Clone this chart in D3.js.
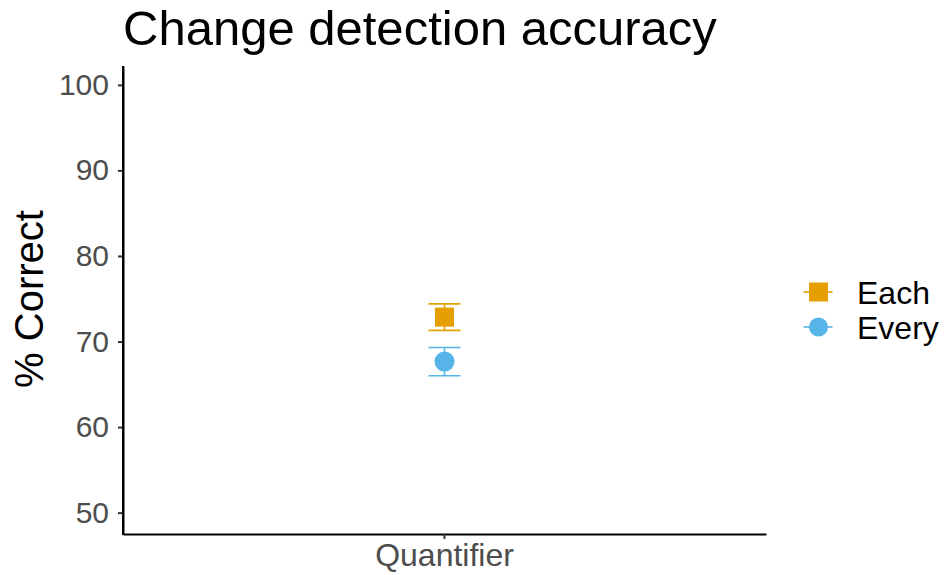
<!DOCTYPE html>
<html>
<head>
<meta charset="utf-8">
<script src="https://cdn.jsdelivr.net/npm/d3@7"></script>
<style>
  html, body { margin: 0; padding: 0; background: #fff; }
  svg text { font-family: "Liberation Sans", Arial, sans-serif; }
</style>
</head>
<body>
<script>
// Accuracy by quantifier condition (mean with error bars)
const categories = ["Quantifier"];
const groups = ["Each", "Every"];
const means = [72.85, 67.65];
const lower = [71.3, 66.0];
const upper = [74.4, 69.3];
const colors = ["#E69F00", "#56B4E9"];
const yTicks = [50, 60, 70, 80, 90, 100];

const W = 944, H = 575;
const panel = { left: 123, right: 766, top: 66, bottom: 534 };

const svg = d3.select("body").append("svg")
  .attr("width", W).attr("height", H);

const x = d3.scaleBand().domain(categories)
  .range([panel.left, panel.right]).padding(0);
const y = d3.scaleLinear().domain([47.5, 102.2])
  .range([panel.bottom, panel.top]);

// Title
svg.append("text")
  .attr("x", 123).attr("y", 45)
  .attr("font-size", 49).attr("fill", "#000")
  .text("Change detection accuracy");

// Y axis
const yAxis = svg.append("g")
  .attr("transform", `translate(${panel.left},0)`)
  .call(d3.axisLeft(y).tickValues(yTicks).tickSize(5).tickPadding(9).tickSizeOuter(0));
yAxis.select(".domain").attr("stroke", "#000").attr("stroke-width", 2);
yAxis.selectAll(".tick line").attr("stroke", "#333").attr("stroke-width", 2);
yAxis.selectAll(".tick text")
  .attr("font-size", 30).attr("fill", "#4D4D4D")
  .attr("font-family", "Liberation Sans, Arial, sans-serif");

// X axis
const xAxis = svg.append("g")
  .attr("transform", `translate(0,${panel.bottom})`)
  .call(d3.axisBottom(x).tickSize(5).tickSizeOuter(0));
xAxis.select(".domain").attr("stroke", "#000").attr("stroke-width", 2);
xAxis.selectAll(".tick line").attr("stroke", "#333").attr("stroke-width", 2);
xAxis.selectAll(".tick text")
  .attr("font-size", 32).attr("fill", "#4D4D4D")
  .attr("y", 32).attr("dy", 0)
  .attr("font-family", "Liberation Sans, Arial, sans-serif");

// Left axis line drawn through the corner
svg.append("line")
  .attr("x1", panel.left).attr("x2", panel.left)
  .attr("y1", panel.top).attr("y2", panel.bottom + 1)
  .attr("stroke", "#000").attr("stroke-width", 2);

// Y axis title
svg.append("text")
  .attr("transform", `translate(43,${(panel.top + panel.bottom) / 2 - 1}) rotate(-90)`)
  .attr("text-anchor", "middle")
  .attr("font-size", 40).attr("fill", "#000")
  .text("% Correct");

// Error bars and points
const cx = x("Quantifier") + x.bandwidth() / 2;
const capHalf = 16;
const g = svg.append("g");
groups.forEach((grp, i) => {
  const col = colors[i];
  g.append("line").attr("x1", cx).attr("x2", cx)
    .attr("y1", y(upper[i])).attr("y2", y(lower[i]))
    .attr("stroke", col).attr("stroke-width", 1.6);
  [upper[i], lower[i]].forEach(v => {
    g.append("line").attr("x1", cx - capHalf).attr("x2", cx + capHalf)
      .attr("y1", y(v)).attr("y2", y(v))
      .attr("stroke", col).attr("stroke-width", 1.6);
  });
  if (i === 0) {
    g.append("rect").attr("x", cx - 9.5).attr("y", y(means[i]) - 9.5)
      .attr("width", 19).attr("height", 19).attr("fill", col);
  } else {
    g.append("circle").attr("cx", cx).attr("cy", y(means[i]))
      .attr("r", 10).attr("fill", col);
  }
});

// Legend
const legend = svg.append("g");
const keyX = 818.5;
const keyY = [292, 327];
groups.forEach((grp, i) => {
  const col = colors[i];
  legend.append("line").attr("x1", keyX - 15).attr("x2", keyX + 14)
    .attr("y1", keyY[i]).attr("y2", keyY[i])
    .attr("stroke", col).attr("stroke-width", 1.6);
  if (i === 0) {
    legend.append("rect").attr("x", keyX - 9.5).attr("y", keyY[i] - 9.5)
      .attr("width", 19).attr("height", 19).attr("fill", col);
  } else {
    legend.append("circle").attr("cx", keyX).attr("cy", keyY[i])
      .attr("r", 9.5).attr("fill", col);
  }
  legend.append("text").attr("x", 857).attr("y", keyY[i] + 11.5)
    .attr("font-size", 32).attr("fill", "#000")
    .text(grp);
});
</script>
</body>
</html>
